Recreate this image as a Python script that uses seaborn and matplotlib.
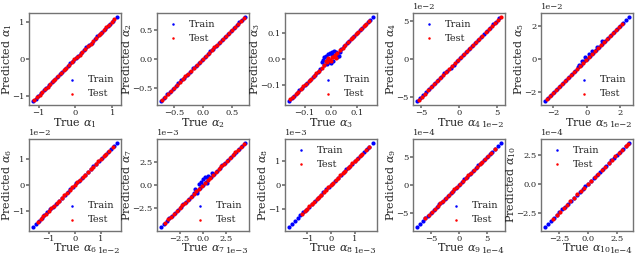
import matplotlib
matplotlib.use("Agg")
import matplotlib.pyplot as plt
from matplotlib.ticker import MultipleLocator
import seaborn as sns

# Estilo general
sns.set_theme(style="ticks")
plt.rcParams['font.family'] = ['DejaVu Serif']
plt.rcParams['mathtext.fontset'] = 'dejavuserif'
plt.rcParams['axes.edgecolor'] = '0.45'
plt.rcParams['axes.linewidth'] = 1.0
plt.rcParams['xtick.color'] = '0.45'
plt.rcParams['ytick.color'] = '0.45'
plt.rcParams['xtick.labelcolor'] = '0.15'
plt.rcParams['ytick.labelcolor'] = '0.15'
plt.rcParams['xtick.major.size'] = 2
plt.rcParams['ytick.major.size'] = 2
plt.rcParams['xtick.major.pad'] = 1
plt.rcParams['ytick.major.pad'] = 1
plt.rcParams['xtick.labelsize'] = 6
plt.rcParams['ytick.labelsize'] = 6
plt.rcParams['axes.formatter.limits'] = (-2, 2)

# Datos (en unidades del eje de cada panel)
a1_train_x = [-1.15, -1.08, -1.01, -0.94, -0.86, -0.79, -0.72, -0.64, -0.57, -0.50, -0.43, -0.35, -0.28, -0.21, -0.14, -0.06,
              0.01, 0.08, 0.15, 0.23, 0.30, 0.37, 0.44, 0.52, 0.59, 0.66, 0.73, 0.81, 0.88, 0.95, 1.02, 1.12]
a1_train_y = [-1.14, -1.08, -1.02, -0.93, -0.86, -0.80, -0.71, -0.64, -0.58, -0.50, -0.42, -0.35, -0.29, -0.21, -0.13, -0.06,
              0.02, 0.08, 0.14, 0.23, 0.31, 0.37, 0.43, 0.52, 0.60, 0.66, 0.72, 0.81, 0.89, 0.95, 1.01, 1.12]
a1_test_x = [-1.11, -1.04, -0.97, -0.90, -0.83, -0.75, -0.68, -0.61, -0.54, -0.46, -0.39, -0.32, -0.25, -0.17, -0.10, -0.03,
             0.05, 0.12, 0.19, 0.26, 0.34, 0.41, 0.48, 0.55, 0.63, 0.70, 0.77, 0.84, 0.91, 0.99, 1.06]
a1_test_y = [-1.11, -1.05, -0.97, -0.89, -0.83, -0.76, -0.68, -0.60, -0.54, -0.47, -0.39, -0.31, -0.25, -0.18, -0.10, -0.02,
             0.05, 0.11, 0.19, 0.27, 0.34, 0.40, 0.48, 0.56, 0.63, 0.69, 0.77, 0.85, 0.91, 0.98, 1.06]

a2_train_x = [-0.72, -0.67, -0.62, -0.57, -0.52, -0.47, -0.42, -0.37, -0.32, -0.27, -0.22, -0.17, -0.12, -0.07, -0.02,
              0.03, 0.08, 0.13, 0.18, 0.23, 0.28, 0.33, 0.38, 0.43, 0.48, 0.53, 0.58, 0.63, 0.68, 0.72]
a2_train_y = [-0.72, -0.67, -0.61, -0.57, -0.52, -0.47, -0.41, -0.37, -0.32, -0.27, -0.22, -0.16, -0.12, -0.07, -0.02,
              0.03, 0.08, 0.13, 0.18, 0.23, 0.28, 0.33, 0.38, 0.43, 0.48, 0.53, 0.58, 0.63, 0.68, 0.72]
a2_test_x = [-0.70, -0.65, -0.60, -0.55, -0.50, -0.45, -0.40, -0.35, -0.30, -0.25, -0.20, -0.15, -0.10, -0.05, 0.00,
             0.05, 0.10, 0.15, 0.20, 0.25, 0.30, 0.35, 0.40, 0.45, 0.50, 0.55, 0.60, 0.65, 0.70]
a2_test_y = [-0.70, -0.65, -0.60, -0.55, -0.50, -0.45, -0.40, -0.35, -0.30, -0.25, -0.20, -0.15, -0.10, -0.05, 0.00,
             0.05, 0.10, 0.15, 0.20, 0.25, 0.30, 0.35, 0.40, 0.45, 0.50, 0.55, 0.60, 0.65, 0.70]

a3_train_x = [-0.16, -0.15, -0.14, -0.13, -0.12, -0.11, -0.10, -0.09, -0.08, -0.07, -0.06, -0.05, -0.04,
              0.04, 0.05, 0.06, 0.07, 0.08, 0.09, 0.10, 0.11, 0.12, 0.13, 0.14, 0.15, 0.16,
              -0.035, -0.03, -0.028, -0.025, -0.02, -0.018, -0.015, -0.012, -0.01, -0.008, -0.005,
              0.0, 0.003, 0.006, 0.01, 0.012, 0.015, 0.02, 0.022, 0.025, 0.03, 0.035]
a3_train_y = [-0.16, -0.15, -0.14, -0.13, -0.12, -0.11, -0.10, -0.09, -0.08, -0.07, -0.06, -0.05, -0.04,
              0.04, 0.05, 0.06, 0.07, 0.08, 0.09, 0.10, 0.11, 0.12, 0.13, 0.14, 0.15, 0.16,
              -0.012, -0.004, -0.022, 0.006, -0.008, 0.012, -0.02, 0.018, 0.0, -0.012, 0.022,
              -0.014, 0.016, 0.026, -0.006, 0.03, 0.012, 0.026, 0.006, 0.018, 0.012, 0.028]
a3_test_x = [-0.155, -0.145, -0.135, -0.125, -0.115, -0.105, -0.095, -0.085, -0.075, -0.065, -0.055, -0.045, -0.035,
             -0.025, -0.015, -0.005, 0.005, 0.015, 0.025, 0.035, 0.045, 0.055, 0.065, 0.075, 0.085, 0.095, 0.105,
             0.115, 0.125, 0.135, 0.145, -0.02, -0.01, 0.0, 0.01, 0.02]
a3_test_y = [-0.155, -0.145, -0.135, -0.125, -0.115, -0.105, -0.095, -0.085, -0.075, -0.065, -0.055, -0.045, -0.033,
             -0.022, -0.012, -0.004, 0.006, 0.014, 0.022, 0.033, 0.044, 0.054, 0.065, 0.075, 0.085, 0.095, 0.105,
             0.115, 0.125, 0.135, 0.145, -0.008, 0.004, -0.006, 0.008, 0.004]

a4_train_x = [-5.5, -5.1, -4.7, -4.3, -3.9, -3.5, -3.1, -2.7, -2.3, -1.9, -1.5, -1.1, -0.7, -0.3,
              0.1, 0.5, 0.9, 1.3, 1.7, 2.1, 2.5, 2.9, 3.3, 3.7, 4.1, 4.5, 4.9, 5.3]
a4_train_y = [-5.45, -5.1, -4.65, -4.3, -3.9, -3.45, -3.1, -2.7, -2.3, -1.85, -1.5, -1.1, -0.7, -0.3,
              0.1, 0.5, 0.95, 1.3, 1.7, 2.1, 2.5, 2.9, 3.3, 3.7, 4.1, 4.55, 4.9, 5.35]
a4_test_x = [-5.3, -4.9, -4.5, -4.1, -3.7, -3.3, -2.9, -2.5, -2.1, -1.7, -1.3, -0.9, -0.5, -0.1,
             0.3, 0.7, 1.1, 1.5, 1.9, 2.3, 2.7, 3.1, 3.5, 3.9, 4.3, 4.7, 5.1, 5.5]
a4_test_y = [-5.3, -4.9, -4.5, -4.1, -3.7, -3.3, -2.85, -2.5, -2.1, -1.7, -1.3, -0.9, -0.5, -0.1,
             0.3, 0.7, 1.1, 1.5, 1.9, 2.3, 2.7, 3.1, 3.5, 3.9, 4.3, 4.7, 5.1, 5.5]

a5_train_x = [-2.5, -2.32, -2.14, -1.96, -1.78, -1.6, -1.42, -1.24, -1.06, -0.88, -0.7, -0.52, -0.34, -0.16,
              0.02, 0.2, 0.38, 0.56, 0.74, 0.92, 1.1, 1.28, 1.46, 1.64, 1.82, 2.0, 2.18, 2.36, 2.5,
              -0.5, -0.3, -0.1, 0.1, 0.3, 0.6, 0.9]
a5_train_y = [-2.5, -2.31, -2.14, -1.95, -1.78, -1.6, -1.41, -1.24, -1.05, -0.88, -0.7, -0.5, -0.33, -0.14,
              0.03, 0.2, 0.38, 0.56, 0.74, 0.92, 1.1, 1.28, 1.46, 1.64, 1.82, 2.0, 2.18, 2.36, 2.5,
              -0.35, -0.1, 0.1, 0.3, 0.45, 0.7, 1.05]
a5_test_x = [-2.4, -2.22, -2.04, -1.86, -1.68, -1.5, -1.32, -1.14, -0.96, -0.78, -0.6, -0.42, -0.24,
             -0.06, 0.12, 0.3, 0.48, 0.66, 0.84, 1.02, 1.2, 1.38, 1.56, 1.74, 1.92, 2.1]
a5_test_y = [-2.4, -2.22, -2.05, -1.86, -1.68, -1.5, -1.31, -1.14, -0.96, -0.77, -0.6, -0.41, -0.23,
             -0.05, 0.13, 0.3, 0.48, 0.66, 0.84, 1.02, 1.2, 1.38, 1.56, 1.74, 1.92, 2.1]

a6_train_x = [-1.6, -1.49, -1.38, -1.27, -1.16, -1.05, -0.94, -0.83, -0.72, -0.61, -0.5, -0.39, -0.28, -0.17, -0.06,
              0.05, 0.16, 0.27, 0.38, 0.49, 0.6, 0.71, 0.82, 0.93, 1.04, 1.15, 1.26, 1.37, 1.48, 1.6]
a6_train_y = [-1.6, -1.49, -1.37, -1.27, -1.16, -1.05, -0.93, -0.83, -0.72, -0.6, -0.5, -0.38, -0.28, -0.16, -0.06,
              0.06, 0.16, 0.28, 0.38, 0.49, 0.6, 0.71, 0.82, 0.93, 1.04, 1.15, 1.26, 1.37, 1.48, 1.6]
a6_test_x = [-1.4, -1.3, -1.2, -1.1, -1.0, -0.9, -0.8, -0.7, -0.6, -0.5, -0.4, -0.3, -0.2, -0.1, 0.0,
             0.1, 0.2, 0.3, 0.4, 0.5, 0.6, 0.7, 0.8, 0.9, 1.0, 1.1, 1.2, 1.3, 1.45]
a6_test_y = [-1.4, -1.3, -1.2, -1.1, -1.0, -0.9, -0.8, -0.7, -0.6, -0.5, -0.39, -0.29, -0.2, -0.09, 0.0,
             0.1, 0.2, 0.3, 0.4, 0.5, 0.6, 0.7, 0.8, 0.9, 1.0, 1.1, 1.2, 1.3, 1.45]

a7_train_x = [-4.5, -4.2, -3.9, -3.6, -3.3, -3.0, -2.7, -2.4, -2.1, -1.8, -1.5, -1.2, -0.9, -0.6, -0.3, 0.0,
              0.3, 0.6, 0.9, 1.2, 1.5, 1.8, 2.1, 2.4, 2.7, 3.0, 3.3, 3.6, 3.9, 4.2, 4.5,
              -0.8, -0.6, -0.4, -0.2, 0.0, 0.2, 0.4, 0.6, 1.0]
a7_train_y = [-4.5, -4.2, -3.9, -3.6, -3.3, -3.0, -2.7, -2.4, -2.1, -1.8, -1.5, -1.2, -0.9, -0.6, -0.3, 0.0,
              0.3, 0.6, 0.9, 1.2, 1.5, 1.8, 2.1, 2.4, 2.7, 3.0, 3.3, 3.6, 3.9, 4.2, 4.5,
              -0.4, -0.9, 0.1, 0.3, 0.6, 0.9, 0.2, 1.0, 1.3]
a7_test_x = [-4.1, -3.7, -3.4, -3.1, -2.8, -2.5, -2.2, -1.9, -1.6, -1.3, -1.0, -0.7, -0.4, -0.1,
             0.2, 0.5, 0.8, 1.1, 1.4, 1.7, 2.0, 2.3, 2.6, 2.9, 3.2, 3.5, 3.8, 4.1, 4.4]
a7_test_y = [-4.1, -3.7, -3.4, -3.1, -2.8, -2.5, -2.2, -1.9, -1.6, -1.3, -1.0, -0.7, -0.4, -0.1,
             0.2, 0.5, 0.8, 1.1, 1.4, 1.7, 2.0, 2.3, 2.6, 2.9, 3.2, 3.5, 3.8, 4.1, 4.4]

a8_train_x = [-1.75, -1.63, -1.51, -1.39, -1.27, -1.15, -1.03, -0.91, -0.79, -0.67, -0.55, -0.43, -0.31, -0.19, -0.07,
              0.05, 0.17, 0.29, 0.41, 0.53, 0.65, 0.77, 0.89, 1.01, 1.13, 1.25, 1.37, 1.49, 1.61, 1.75]
a8_train_y = [-1.75, -1.63, -1.51, -1.39, -1.27, -1.15, -1.03, -0.91, -0.79, -0.67, -0.55, -0.43, -0.31, -0.19, -0.07,
              0.05, 0.17, 0.29, 0.41, 0.53, 0.65, 0.77, 0.89, 1.01, 1.13, 1.25, 1.37, 1.49, 1.61, 1.75]
a8_test_x = [-1.2, -1.1, -1.0, -0.9, -0.8, -0.7, -0.6, -0.5, -0.4, -0.3, -0.2, -0.1, 0.0, 0.1,
             0.2, 0.3, 0.4, 0.5, 0.6, 0.7, 0.8, 0.9, 1.0, 1.1, 1.2, 1.3, 1.45, 1.6]
a8_test_y = [-1.2, -1.1, -1.0, -0.9, -0.8, -0.7, -0.6, -0.5, -0.4, -0.3, -0.2, -0.1, 0.0, 0.1,
             0.2, 0.3, 0.4, 0.5, 0.6, 0.7, 0.8, 0.9, 1.0, 1.1, 1.2, 1.3, 1.45, 1.6]

a9_train_x = [-7.5, -7.0, -6.5, -6.0, -5.5, -5.0, -4.5, -4.0, -3.5, -3.0, -2.5, -2.0, -1.5, -1.0, -0.5, 0.0,
              0.5, 1.0, 1.5, 2.0, 2.5, 3.0, 3.5, 4.0, 4.5, 5.0, 5.5, 6.0, 6.5, 7.0, 7.5]
a9_train_y = [-7.5, -7.0, -6.5, -6.0, -5.5, -5.0, -4.5, -4.0, -3.5, -3.0, -2.5, -2.0, -1.5, -1.0, -0.5, 0.0,
              0.5, 1.0, 1.5, 2.0, 2.5, 3.0, 3.5, 4.0, 4.5, 5.0, 5.5, 6.0, 6.5, 7.0, 7.5]
a9_test_x = [-6.0, -5.4, -4.8, -4.3, -3.8, -3.3, -2.8, -2.3, -1.8, -1.3, -0.8, -0.3, 0.2,
             0.7, 1.2, 1.7, 2.2, 2.7, 3.2, 3.7, 4.2, 4.7, 5.2, 5.8, 6.5]
a9_test_y = [-6.0, -5.4, -4.8, -4.3, -3.8, -3.3, -2.8, -2.3, -1.8, -1.3, -0.8, -0.3, 0.2,
             0.7, 1.2, 1.7, 2.2, 2.7, 3.2, 3.7, 4.2, 4.7, 5.2, 5.8, 6.5]

a10_train_x = [-3.7, -3.45, -3.2, -2.95, -2.7, -2.45, -2.2, -1.95, -1.7, -1.45, -1.2, -0.95, -0.7, -0.45, -0.2,
               0.05, 0.3, 0.55, 0.8, 1.05, 1.3, 1.55, 1.8, 2.05, 2.3, 2.55, 2.8, 3.05, 3.3, 3.55]
a10_train_y = [-3.7, -3.45, -3.2, -2.95, -2.7, -2.45, -2.2, -1.95, -1.7, -1.45, -1.2, -0.95, -0.7, -0.45, -0.2,
               0.05, 0.3, 0.55, 0.8, 1.05, 1.3, 1.55, 1.8, 2.05, 2.3, 2.55, 2.8, 3.05, 3.3, 3.55]
a10_test_x = [-3.0, -2.7, -2.4, -2.1, -1.8, -1.5, -1.2, -0.9, -0.6, -0.3, 0.0, 0.3,
              0.6, 0.9, 1.2, 1.5, 1.8, 2.1, 2.4, 2.7, 3.0, 3.3, 3.5]
a10_test_y = [-3.0, -2.7, -2.4, -2.1, -1.8, -1.5, -1.2, -0.9, -0.6, -0.3, 0.0, 0.3,
              0.6, 0.9, 1.2, 1.5, 1.8, 2.1, 2.4, 2.7, 3.0, 3.3, 3.5]

train_x = [a1_train_x, a2_train_x, a3_train_x, a4_train_x, a5_train_x, a6_train_x, a7_train_x, a8_train_x, a9_train_x, a10_train_x]
train_y = [a1_train_y, a2_train_y, a3_train_y, a4_train_y, a5_train_y, a6_train_y, a7_train_y, a8_train_y, a9_train_y, a10_train_y]
test_x = [a1_test_x, a2_test_x, a3_test_x, a4_test_x, a5_test_x, a6_test_x, a7_test_x, a8_test_x, a9_test_x, a10_test_x]
test_y = [a1_test_y, a2_test_y, a3_test_y, a4_test_y, a5_test_y, a6_test_y, a7_test_y, a8_test_y, a9_test_y, a10_test_y]
unidades = [1, 1, 1, 1e-2, 1e-2, 1e-2, 1e-3, 1e-3, 1e-4, 1e-4]
paso_ticks = [1, 0.5, 0.1, 5, 2, 1, 2.5, 1, 5, 2.5]
leyenda_loc = ['lower right', 'upper left', 'lower right', 'upper left', 'lower right',
               'lower right', 'lower right', 'upper left', 'lower right', 'upper left']

fig, axes = plt.subplots(2, 5, figsize=(6.4, 2.56), dpi=100)
fig.subplots_adjust(left=0.045, right=0.989, top=0.949, bottom=0.098, wspace=0.39, hspace=0.37)

for i, ax in enumerate(axes.flat):
    u = unidades[i]
    sns.scatterplot(x=[v * u for v in train_x[i]], y=[v * u for v in train_y[i]], ax=ax,
                    color='blue', s=9, linewidth=0, label='Train')
    sns.scatterplot(x=[v * u for v in test_x[i]], y=[v * u for v in test_y[i]], ax=ax,
                    color='red', s=9, linewidth=0, label='Test')
    ax.xaxis.set_major_locator(MultipleLocator(paso_ticks[i] * u))
    ax.yaxis.set_major_locator(MultipleLocator(paso_ticks[i] * u))
    ax.set_xlabel(rf'True $\alpha_{{{i + 1}}}$', fontsize=8, labelpad=-1)
    ax.set_ylabel(rf'Predicted $\alpha_{{{i + 1}}}$', fontsize=8, labelpad=-1)
    ax.xaxis.get_offset_text().set_fontsize(6)
    ax.yaxis.get_offset_text().set_fontsize(6)
    ax.legend(loc=leyenda_loc[i], frameon=False, fontsize=7, handletextpad=0.6,
              borderaxespad=0.3, labelspacing=0.5, markerscale=0.6)

plt.savefig('out.png')
plt.close()
